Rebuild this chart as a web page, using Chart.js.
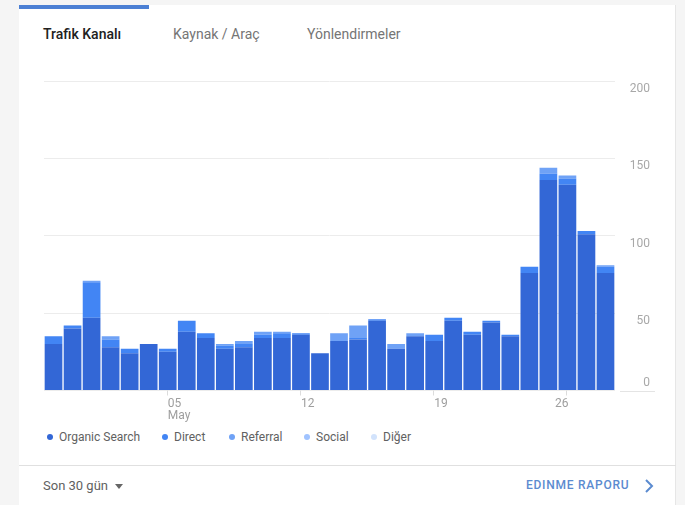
<!DOCTYPE html>
<html>
<head>
<meta charset="utf-8">
<script src="https://cdn.jsdelivr.net/npm/chart.js@4"></script>
<style>
  html,body{margin:0;padding:0;}
  body{width:685px;height:505px;background:#f5f5f5;font-family:Roboto,"Noto Sans",sans-serif;position:relative;overflow:hidden;}
  #card{position:absolute;left:19px;top:5px;width:656px;height:520px;background:#fff;border-right:1px solid #e6e6e6;}
  #topbar{position:absolute;left:19px;top:5px;width:130px;height:4px;background:#4c80d4;}
  .tab{position:absolute;top:25px;font-size:14px;line-height:18px;color:#757575;white-space:nowrap;}
  .tab.active{color:#212121;font-weight:500;}
  #wrap{position:absolute;left:0;top:0;width:685px;height:425px;}
  #legend{position:absolute;top:429px;left:47px;font-size:12px;color:#616161;white-space:nowrap;}
  #legend span.item{position:absolute;top:0;line-height:16px;}
  #legend i{display:inline-block;width:6px;height:6px;border-radius:50%;margin-right:6px;vertical-align:1px;}
  #sep{position:absolute;left:19px;top:465px;width:657px;height:1px;background:#e0e0e0;}
  #range{position:absolute;left:43px;top:477px;font-size:13px;line-height:18px;color:#616161;}
  #tri{position:absolute;left:115px;top:484px;width:0;height:0;border-left:4px solid transparent;border-right:4px solid transparent;border-top:5px solid #666;}
  #report{position:absolute;left:526px;top:477px;font-size:12px;line-height:16px;color:#5b8bd0;font-weight:500;letter-spacing:0.75px;white-space:nowrap;}
  #chev{position:absolute;left:642px;top:478px;}
</style>
</head>
<body>
<div id="card"></div>
<div id="topbar"></div>
<div class="tab active" style="left:43px;">Trafik Kanalı</div>
<div class="tab" style="left:173px;">Kaynak / Araç</div>
<div class="tab" style="left:307px;">Yönlendirmeler</div>
<div id="wrap"><canvas id="c"></canvas></div>
<div id="legend"></div>
<div id="sep"></div>
<div id="range">Son 30 gün</div>
<div id="tri"></div>
<div id="report">EDINME RAPORU</div>
<svg id="chev" width="14" height="16" viewBox="0 0 14 16"><path d="M4 2 L10 8 L4 14" fill="none" stroke="#5b8bd0" stroke-width="2"/></svg>
<script>
// ---- data ----
const days = ["29","30","01","02","03","04","05","06","07","08","09","10","11","12","13","14","15","16","17","18","19","20","21","22","23","24","25","26","27","28"];
const seriesNames = ["Organic Search","Direct","Referral","Social","Diğer"];
const seriesColors = ["#3367d6","#4285f4","#6fa2f6","#a0c3ff","#d2e3fc"];
const organic  = [30,40,47,28,24,30,25,38,34,27,28,34,34,36,24,32,33,45,27,35,32,45,36,44,35,76,136,133,101,76];
const direct   = [5,2,23,5,3,0,2,7,3,2,2,2,3,1,0,0,1,1,0,0,4,2,2,1,1,4,4,4,2,4];
const referral = [0,0,1,2,0,0,0,0,0,1,2,2,1,0,0,5,8,0,3,2,0,0,0,0,0,0,4,2,0,1];
const social   = [0,0,0,0,0,0,0,0,0,0,0,0,0,0,0,0,0,0,0,0,0,0,0,0,0,0,0,0,0,0];
const diger    = [0,0,0,0,0,0,0,0,0,0,0,0,0,0,0,0,0,0,0,0,0,0,0,0,0,0,0,0,0,0];
const yTicks = [0,50,100,150,200];
const xTickIndices = [6,13,20,27];
const xTickLabels = [["05","May"],["12"],["19"],["26"]];

// legend
const legendX = [0,115,182,257,324];
const lg = document.getElementById('legend');
seriesNames.forEach((n,i)=>{
  const s=document.createElement('span');s.className='item';s.style.left=legendX[i]+'px';
  s.innerHTML='<i style="background:'+seriesColors[i]+'"></i>'+n;lg.appendChild(s);
});

const axisLabels = {
  id:'axisLabels',
  afterDraw(chart){
    const ctx=chart.ctx, y=chart.scales.y, x=chart.scales.x, ca=chart.chartArea;
    ctx.save();
    ctx.font='12px Roboto, "Noto Sans", sans-serif';
    ctx.fillStyle='#a8a8a8';
    ctx.textAlign='right';
    yTicks.forEach(v=>{
      const py=y.getPixelForValue(v);
      ctx.textBaseline='middle';
      ctx.fillText(String(v), ca.right+35, v===0 ? py-8 : py+8);
    });
    // baseline extension under "0"
    ctx.strokeStyle='#e4e4e4';ctx.lineWidth=1;
    const by=Math.round(y.getPixelForValue(0))+0.5;
    ctx.beginPath();ctx.moveTo(ca.right+5,by);ctx.lineTo(ca.right+40,by);ctx.stroke();
    // x labels
    ctx.fillStyle='#9e9e9e';ctx.textBaseline='middle';
    xTickIndices.forEach((idx,k)=>{
      const px=x.getPixelForValue(idx);
      ctx.strokeStyle='#dcdcdc';
      ctx.beginPath();ctx.moveTo(Math.round(px)-0.5,ca.bottom);ctx.lineTo(Math.round(px)-0.5,ca.bottom+5);ctx.stroke();
      const last = k===xTickIndices.length-1;
      ctx.textAlign = last ? 'right' : 'left';
      xTickLabels[k].forEach((t,j)=>{
        ctx.fillText(t, last ? px+1 : px, ca.bottom+13+j*12);
      });
    });
    ctx.restore();
  }
};

const data = {
  labels: days,
  datasets: [organic,direct,referral,social,diger].map((arr,i)=>({
    label: seriesNames[i], data: arr, backgroundColor: seriesColors[i],
    borderWidth:0, barPercentage:0.93, categoryPercentage:1.0
  }))
};

new Chart(document.getElementById('c'),{
  type:'bar',
  data,
  options:{
    responsive:true, maintainAspectRatio:false, animation:false,
    layout:{padding:{left:44,right:70,top:81,bottom:34.5}},
    plugins:{legend:{display:false},tooltip:{enabled:false}},
    scales:{
      x:{stacked:true, display:false},
      y:{stacked:true, min:0, max:200,
         ticks:{display:false, stepSize:50},
         border:{display:false},
         grid:{color:'#ececec', drawTicks:false, lineWidth:1}}
    }
  },
  plugins:[axisLabels]
});
</script>
</body>
</html>
